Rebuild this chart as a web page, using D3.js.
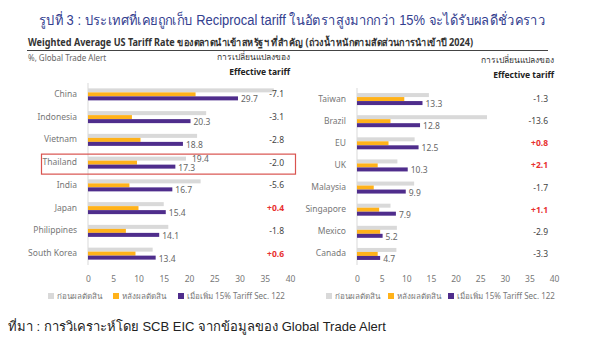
<!DOCTYPE html>
<html><head><meta charset="utf-8">
<script src="https://cdn.jsdelivr.net/npm/d3@7"></script>
<style>
html,body{margin:0;padding:0;background:#fff;}
svg{display:block;font-family:"Noto Sans","Open Sans",sans-serif;}
</style></head>
<body><svg id="c" width="590" height="339"></svg>
<script>
// Left panel
const leftCats = ["China","Indonesia","Vietnam","Thailand","India","Japan","Philippines","South Korea"];
const leftBefore = [36.8,23.4,21.6,19.4,22.3,15.0,15.9,12.8];
const leftAfter = [21.3,8.7,10.4,9.7,8.2,10.0,7.5,9.4];
const leftSec122 = [29.7,20.3,18.8,17.3,16.7,15.4,14.1,13.4];
const leftChange = ["-7.1","-3.1","-2.8","-2.0","-5.6","+0.4","-1.8","+0.6"];
// Right panel
const rightCats = ["Taiwan","Brazil","EU","UK","Malaysia","Singapore","Mexico","Canada"];
const rightBefore = [14.6,26.4,11.7,8.2,11.6,6.8,8.1,8.0];
const rightAfter = [9.6,6.8,6.4,4.2,3.4,4.5,4.7,4.2];
const rightSec122 = [13.3,12.8,12.5,10.3,9.9,7.9,5.2,4.7];
const rightChange = ["-1.3","-13.6","+0.8","+2.1","-1.7","+1.1","-2.9","-3.3"];
const xTicks = [0,5,10,15,20,25,30,35,40];
const legendLabels = ["ก่อนผลตัดสิน","หลังผลตัดสิน","เมื่อเพิ่ม 15% Tariff Sec. 122"];
const highlight = "Thailand";

const C = {before:"#d9d9d9", after:"#ffb21a", sec:"#4f2d8c"};
const svg = d3.select("#c");
svg.append("rect").attr("width",590).attr("height",339).attr("fill","#fff");

svg.append("text").attr("x",39).attr("y",25).attr("font-size",14).attr("fill","#33408f")
  .attr("font-family","Liberation Sans, Noto Sans, sans-serif")
  .attr("textLength",506).attr("lengthAdjust","spacingAndGlyphs")
  .text("รูปที่ 3 : ประเทศที่เคยถูกเก็บ Reciprocal tariff ในอัตราสูงมากกว่า 15% จะได้รับผลดีชั่วคราว");
svg.append("text").attr("x",28).attr("y",46).attr("font-size",10).attr("font-weight","bold").attr("fill","#333")
  .attr("textLength",445).attr("lengthAdjust","spacingAndGlyphs")
  .text("Weighted Average US Tariff Rate ของตลาดนำเข้าสหรัฐฯ ที่สำคัญ (ถ่วงน้ำหนักตามสัดส่วนการนำเข้าปี 2024)");
svg.append("line").attr("x1",27).attr("x2",548).attr("y1",50.5).attr("y2",50.5).attr("stroke","#444").attr("stroke-width",1.2);
svg.append("text").attr("x",28).attr("y",61).attr("font-size",8).attr("fill","#666").text("%, Global Trade Alert");

function panel(o){
  const x = d3.scaleLinear().domain([0,40]).range([o.x0,o.x1]);
  const y = d3.scaleBand().domain(o.cats).range([o.y0,o.y1]);
  const g = svg.append("g");
  g.append("text").attr("x",o.hx).attr("y",o.hy).attr("text-anchor","end").attr("font-size",8.5).attr("fill","#333").text("การเปลี่ยนแปลงของ");
  g.append("text").attr("x",o.hx).attr("y",o.hy+15).attr("text-anchor","end").attr("font-size",8.5).attr("font-weight","bold").attr("fill","#222").text("Effective tariff");
  g.append("line").attr("x1",x(0)).attr("x2",x(0)).attr("y1",o.y0).attr("y2",o.y1).attr("stroke","#d9d9d9");
  const axis = d3.axisBottom(x).tickValues(xTicks).tickSize(0).tickPadding(0);
  const ag = g.append("g").attr("transform",`translate(0,282)`).call(axis);
  ag.select(".domain").remove();
  ag.selectAll("text").attr("font-size",8.5).attr("fill","#777").attr("font-family","Noto Sans, sans-serif").attr("dy",0);
  o.cats.forEach((c,i)=>{
    const cy = y(c)+y.bandwidth()/2;
    g.append("rect").attr("x",x(0)).attr("y",cy-6).attr("width",x(o.before[i])-x(0)).attr("height",4).attr("fill",C.before);
    g.append("rect").attr("x",x(0)).attr("y",cy-2).attr("width",x(o.after[i])-x(0)).attr("height",4).attr("fill",C.after);
    g.append("rect").attr("x",x(0)).attr("y",cy+2).attr("width",x(o.sec[i])-x(0)).attr("height",4).attr("fill",C.sec);
    g.append("text").attr("x",x(0)-11).attr("y",cy+2.5).attr("text-anchor","end").attr("font-size",8.5).attr("fill","#777").text(c);
    g.append("text").attr("x",x(o.sec[i])+3).attr("y",cy+8).attr("font-size",8.5).attr("fill","#666").text(o.sec[i].toFixed(1));
    if(c===highlight){
      g.append("text").attr("x",x(o.before[i])+6).attr("y",cy-1).attr("font-size",8.5).attr("fill","#666").text(o.before[i].toFixed(1));
      g.append("rect").attr("x",41.5).attr("y",cy-8.5).attr("width",254).attr("height",20).attr("fill","none").attr("stroke","#d9534f").attr("stroke-width",1.2);
    }
    const ch = o.change[i];
    g.append("text").attr("x",o.cx).attr("y",cy+3).attr("text-anchor","end").attr("font-size",8.5)
      .attr("fill", ch[0]==="+" ? "#e8312f" : "#444").attr("font-weight", ch[0]==="+"?"bold":"normal").text(ch);
  });
  const lg = g.append("g").attr("transform",`translate(${o.lx},300)`);
  const cols=[C.before,C.after,C.sec];
  o.lxs.forEach((dx,i)=>{
    lg.append("rect").attr("x",dx).attr("y",-7).attr("width",6).attr("height",6).attr("fill",cols[i]);
    lg.append("text").attr("x",dx+9).attr("y",-1).attr("font-size",8).attr("fill","#777").text(legendLabels[i]);
  });
}
panel({cats:leftCats,before:leftBefore,after:leftAfter,sec:leftSec122,change:leftChange,
  x0:88,x1:290,y0:83,y1:265,hx:290,hy:60,cx:284,lx:0,lxs:[48,113,178]});
panel({cats:rightCats,before:rightBefore,after:rightAfter,sec:rightSec122,change:rightChange,
  x0:357,x1:554,y0:88,y1:265,hx:554,hy:63,cx:548,lx:0,lxs:[326,388,448]});

svg.append("text").attr("x",8).attr("y",331).attr("font-size",13).attr("fill","#222")
  .attr("font-family","Liberation Sans, Noto Sans, sans-serif")
  .text("ที่มา : การวิเคราะห์โดย SCB EIC จากข้อมูลของ Global Trade Alert");
</script></body></html>
